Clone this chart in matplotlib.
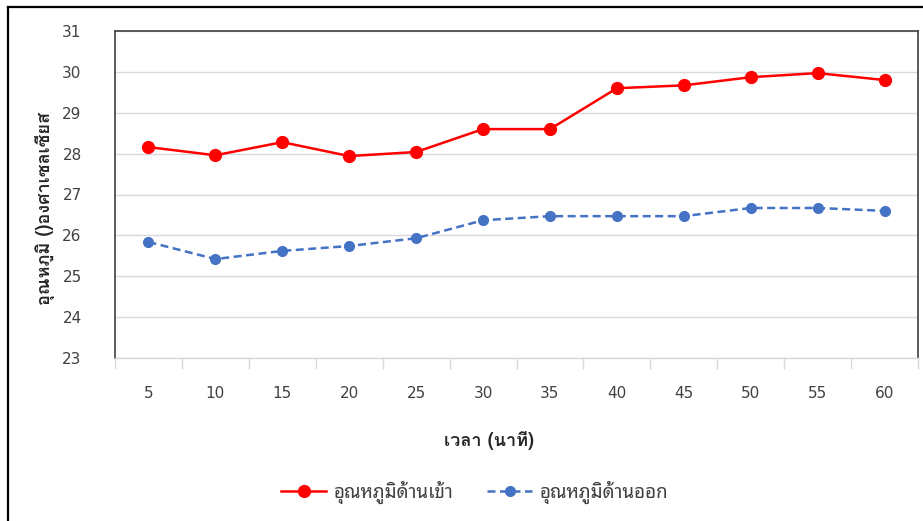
import matplotlib
matplotlib.use("Agg")
import matplotlib.pyplot as plt
from matplotlib.lines import Line2D
import numpy as np

plt.rcParams['font.family'] = ['DejaVu Sans', 'Noto Sans Thai Looped']
thai_fonts = ['Noto Sans Thai Looped', 'DejaVu Sans']
thai_bold_fonts = ['Loma', 'Noto Sans Thai Looped', 'DejaVu Sans']

minutes = ["5", "10", "15", "20", "25", "30", "35", "40", "45", "50", "55", "60"]
temp_in = [28.16, 27.96, 28.28, 27.94, 28.04, 28.60, 28.60, 29.60, 29.67, 29.87, 29.97, 29.80]
temp_out = [25.84, 25.42, 25.62, 25.74, 25.93, 26.37, 26.47, 26.47, 26.47, 26.67, 26.67, 26.60]
y_ticks = [23, 24, 25, 26, 27, 28, 29, 30, 31]

label_in = "อุณหภูมิด้านเข้า"
label_out = "อุณหภูมิด้านออก"
x_title = "เวลา (นาที)"
y_title = "อุณหภูมิ ()องศาเซลเซียส"

W, H = 923, 521
fig = plt.figure(figsize=(W / 100, H / 100), dpi=100)

def fx(px):
    return px / W

def fy(py):
    return 1 - py / H

# plot area in pixel coordinates
left, right, top, bottom = 115, 918, 31, 358
ax = fig.add_axes([fx(left), fy(bottom), fx(right) - fx(left), fy(top) - fy(bottom)])

x = np.arange(len(minutes))
red = "#FF0000"
blue = "#4472C4"
ax.plot(x, temp_in, color=red, lw=1.8, marker="o", ms=8.5, zorder=4)
ax.plot(x, temp_out, color=blue, lw=1.8, ls=(0, (3.2, 1.8)), marker="o", ms=7, zorder=3)

ax.set_xlim(-0.5, len(minutes) - 0.5)
ax.set_ylim(23, 31)
ax.set_yticks(y_ticks)
ax.set_yticklabels([str(v) for v in y_ticks], fontsize=11, color="#404040")
ax.tick_params(axis="y", length=0, pad=24)

ax.set_xticks(x)
ax.set_xticklabels(minutes, fontsize=11, color="#404040")
ax.tick_params(axis="x", which="major", length=0, pad=20)
ax.set_xticks(np.arange(-0.5, len(minutes)), minor=True)
ax.tick_params(axis="x", which="minor", length=8, color="#D9D9D9", width=1)

ax.grid(axis="y", color="#D9D9D9", lw=1)
ax.set_axisbelow(True)
for side in ("left", "top", "right"):
    ax.spines[side].set_color("#404040")
    ax.spines[side].set_linewidth(1.2)
ax.spines["bottom"].set_color("#D9D9D9")
ax.spines["bottom"].set_linewidth(1)

fig.text(fx(45), fy(208), y_title, rotation=90, ha="center", va="center",
         fontsize=13, fontweight="bold", color="#262626", family=thai_bold_fonts)
fig.text(fx(489), fy(441), x_title, ha="center", va="center",
         fontsize=13, fontweight="bold", color="#262626", family=thai_bold_fonts)

handles = [
    Line2D([], [], color=red, lw=1.8, marker="o", ms=8.5),
    Line2D([], [], color=blue, lw=1.8, ls=(0, (3.2, 1.8)), marker="o", ms=7),
]
fig.legend(handles, [label_in, label_out], loc="center", bbox_to_anchor=(fx(475), fy(492)),
           ncol=2, frameon=False, handlelength=2.4, columnspacing=1.8,
           handletextpad=0.4, labelcolor="#404040",
           prop={"family": thai_fonts, "size": 13.5})

# outer chart frame (top and left edges)
fig.add_artist(Line2D([fx(8), fx(8)], [fy(7), 0], color="black", lw=1.6, transform=fig.transFigure))
fig.add_artist(Line2D([fx(8), 1], [fy(7), fy(7)], color="black", lw=1.6, transform=fig.transFigure))

fig.savefig("out.png", dpi=100)
